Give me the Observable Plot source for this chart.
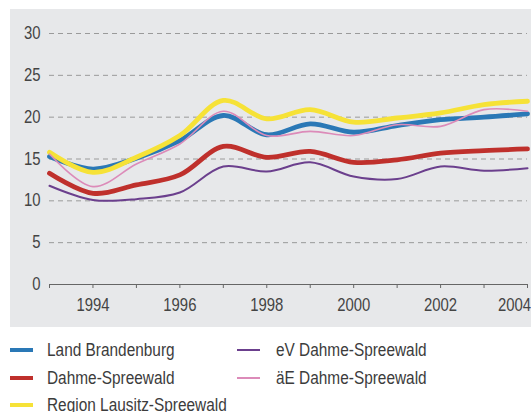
<!DOCTYPE html>
<html>
<head>
<meta charset="utf-8">
<script src="https://cdn.jsdelivr.net/npm/d3@7"></script>
<script src="https://cdn.jsdelivr.net/npm/@observablehq/plot@0.6"></script>
<style>
  html, body { margin: 0; padding: 0; background: #ffffff; }
  #wrap { position: relative; width: 531px; height: 412px; overflow: hidden; font-family: 'Liberation Sans', Arial, sans-serif; }
  #chart { position: absolute; left: 10px; top: 9px; width: 521px; height: 318px; background: #e7e8ea; }
  #chart svg { background: transparent; overflow: visible; }
  .leg { position: absolute; font-size: 17.5px; color: #3c3c3c; white-space: nowrap; line-height: 20px; transform: scaleX(0.88); transform-origin: 0 50%; }
  .sw { position: absolute; width: 23px; }
</style>
</head>
<body>
<div id="wrap">
  <div id="chart"></div>
  <div id="legend"></div>
</div>
<script>
const years = [1993, 1994, 1995, 1996, 1997, 1998, 1999, 2000, 2001, 2002, 2003, 2004];
const landBrandenburg = [15.3, 13.8, 15.1, 17.2, 20.2, 17.9, 19.2, 18.2, 19.0, 19.7, 20.0, 20.4];
const dahmeSpreewald = [13.3, 10.9, 11.9, 13.1, 16.5, 15.2, 15.9, 14.6, 14.9, 15.7, 16.0, 16.2];
const regionLausitz = [15.8, 13.4, 15.2, 17.8, 22.0, 19.8, 20.9, 19.4, 19.9, 20.5, 21.5, 21.9];
const evDahme = [11.8, 10.1, 10.2, 11.0, 14.1, 13.5, 14.6, 12.9, 12.6, 14.1, 13.6, 13.9];
const aeDahme = [15.6, 11.7, 14.4, 16.8, 20.7, 17.8, 18.3, 17.8, 19.1, 18.9, 20.9, 20.7];
const yTicks = [0, 5, 10, 15, 20, 25, 30];
const xTickYears = [1993, 1994, 1995, 1996, 1997, 1998, 1999, 2000, 2001, 2002, 2003, 2004];
const xLabelYears = [1994, 1996, 1998, 2000, 2002];
const xLastLabel = [2004];

const seriesNames = ["Land Brandenburg", "Dahme-Spreewald", "Region Lausitz-Spreewald", "eV Dahme-Spreewald", "äE Dahme-Spreewald"];
const seriesValues = [landBrandenburg, dahmeSpreewald, regionLausitz, evDahme, aeDahme];
const seriesColors = ["#2a78b6", "#bf302c", "#f6e237", "#6b3f8d", "#dc8bb9"];
const seriesWidths = [4.8, 4.8, 4.8, 2, 1.6];

const rows = seriesNames.map((name, i) => years.map((y, j) => ({series: name, year: y, value: seriesValues[i][j]})));

const drawOrder = [1, 0, 2, 3, 4];
const lineMarks = drawOrder.map(i => Plot.lineY(rows[i], {
  x: "year", y: "value", stroke: seriesColors[i], strokeWidth: seriesWidths[i], curve: "catmull-rom"
}));

const plot = Plot.plot({
  width: 521,
  height: 318,
  marginLeft: 39,
  marginRight: 4,
  marginTop: 24,
  marginBottom: 43,
  style: { fontFamily: "'Liberation Sans', Arial, sans-serif", fontSize: "17.5px", color: "#444", background: "transparent" },
  x: { domain: [1993, 2004] },
  y: { domain: [0, 30] },
  marks: [
    Plot.ruleY(yTicks.filter(d => d > 0), { stroke: "#9a9a9a", strokeWidth: 1, strokeDasharray: "5,4" }),
    Plot.axisY({ ticks: yTicks, tickSize: 0, tickPadding: 9, label: null, fill: "#444" }),
    Plot.axisX({ ticks: xTickYears, tickSize: 4, tickFormat: () => "", label: null, stroke: "#666" }),
    Plot.axisX({ ticks: xLabelYears, tickSize: 0, tickPadding: 14, tickFormat: d => String(d), label: null, fill: "#444" }),
    Plot.axisX({ ticks: xLastLabel, tickSize: 0, tickPadding: 14, dx: -13, tickFormat: d => String(d), label: null, fill: "#444" }),
    Plot.ruleY([0], { stroke: "#666", strokeWidth: 1.2 }),
    ...lineMarks
  ]
});
// condense axis label glyphs (narrow face of the original)
d3.select(plot).selectAll("text").each(function() {
  const t = this.getAttribute("transform") || "";
  this.setAttribute("transform", t + " scale(0.85,1)");
});
document.getElementById("chart").appendChild(plot);

// legend
const legend = document.getElementById("legend");
const legPos = [
  {x: 10, tx: 47, y: 350},
  {x: 10, tx: 47, y: 378},
  {x: 10, tx: 47, y: 405},
  {x: 237, tx: 276, y: 350},
  {x: 237, tx: 276, y: 378}
];
seriesNames.forEach((name, i) => {
  const p = legPos[i];
  const sw = document.createElement("div");
  sw.className = "sw";
  const h = seriesWidths[i] >= 4 ? 4 : 2;
  sw.style.left = p.x + "px";
  sw.style.top = (p.y - h / 2) + "px";
  sw.style.height = h + "px";
  sw.style.background = seriesColors[i];
  legend.appendChild(sw);
  const t = document.createElement("div");
  t.className = "leg";
  t.textContent = name;
  t.style.left = p.tx + "px";
  t.style.top = (p.y - 10) + "px";
  legend.appendChild(t);
});
</script>
</body>
</html>
